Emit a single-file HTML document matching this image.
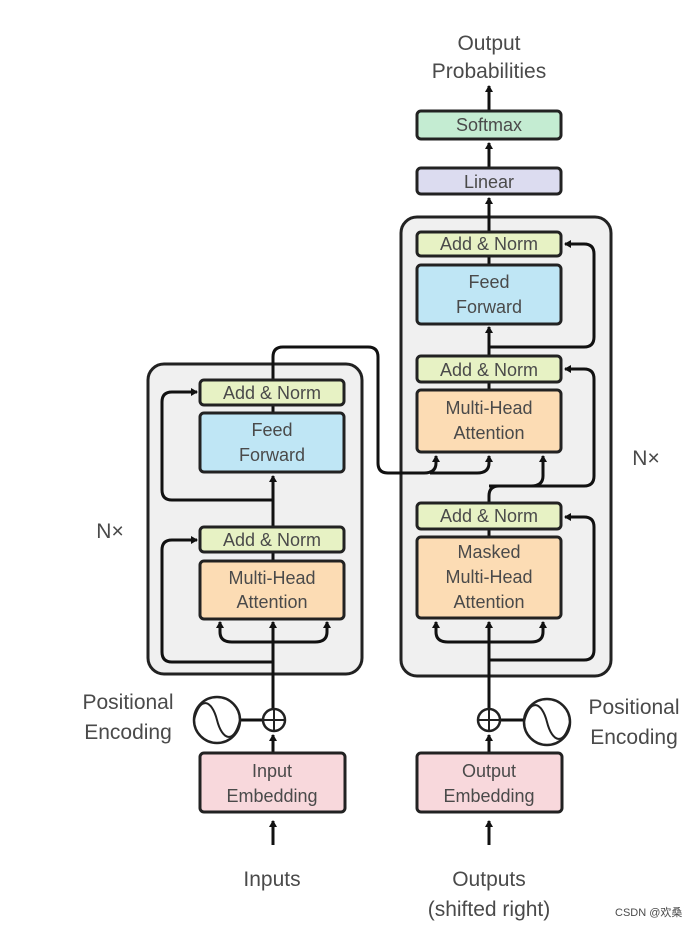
<!DOCTYPE html>
<html><head><meta charset="utf-8"><style>
html,body{margin:0;padding:0;background:#fff;}
svg{display:block;}
text{font-family:"Liberation Sans","Noto Sans CJK SC",sans-serif;fill:#4a4a4a;}
</style></head><body>
<svg width="697" height="926" viewBox="0 0 697 926" xmlns="http://www.w3.org/2000/svg">
<defs>
<marker id="a" markerWidth="8" markerHeight="8" refX="6" refY="4" orient="auto" markerUnits="userSpaceOnUse">
<path d="M0,0 L7,4 L0,8 Z" fill="#111"/></marker>
</defs>
<rect x="148" y="364" width="214" height="310" rx="16" fill="#f0f0f0" stroke="#222" stroke-width="3"/>
<rect x="401" y="217" width="210" height="459" rx="16" fill="#f0f0f0" stroke="#222" stroke-width="3"/>

<g stroke="#111" stroke-width="3" fill="none">
<path d="M273 845 L273 821" marker-end="url(#a)"/>
<path d="M273 753 L273 735" marker-end="url(#a)"/>
<path d="M273 708 L273 622" marker-end="url(#a)"/>
<path d="M273 662 L172 662 Q162 662 162 652 L162 550 Q162 540 172 540 L197 540" marker-end="url(#a)"/>
<path d="M273 642 L232 642 Q220 642 220 632 L220 622" marker-end="url(#a)"/>
<path d="M273 642 L315 642 Q327 642 327 632 L327 622" marker-end="url(#a)"/>
<path d="M273 562 L273 552"/>
<path d="M273 528 L273 476" marker-end="url(#a)"/>
<path d="M273 500 L172 500 Q162 500 162 490 L162 402 Q162 392 172 392 L197 392" marker-end="url(#a)"/>
<path d="M273 413 L273 405"/>
<path d="M273 380 L273 357 Q273 347 283 347 L368 347 Q378 347 378 357 L378 463 Q378 473 388 473 L424 473 Q436 473 436 463 L436 456" marker-end="url(#a)"/>
<path d="M430 473 L477 473 Q489 473 489 463 L489 456" marker-end="url(#a)"/>
<path d="M489 845 L489 821" marker-end="url(#a)"/>
<path d="M489 753 L489 735" marker-end="url(#a)"/>
<path d="M489 708 L489 622" marker-end="url(#a)"/>
<path d="M489 660 L584 660 Q594 660 594 650 L594 527 Q594 517 584 517 L565 517" marker-end="url(#a)"/>
<path d="M489 642 L448 642 Q436 642 436 632 L436 622" marker-end="url(#a)"/>
<path d="M489 642 L531 642 Q543 642 543 632 L543 622" marker-end="url(#a)"/>
<path d="M489 537 L489 529"/>
<path d="M489 503 L489 496 Q489 486 499 486 L531 486 Q543 486 543 476 L543 456" marker-end="url(#a)"/>
<path d="M489 486 L584 486 Q594 486 594 476 L594 379 Q594 369 584 369 L565 369" marker-end="url(#a)"/>
<path d="M489 390 L489 382"/>
<path d="M489 355 L489 327" marker-end="url(#a)"/>
<path d="M489 347 L584 347 Q594 347 594 337 L594 254 Q594 244 584 244 L565 244" marker-end="url(#a)"/>
<path d="M489 265 L489 256"/>
<path d="M489 232 L489 198" marker-end="url(#a)"/>
<path d="M489 168 L489 143" marker-end="url(#a)"/>
<path d="M489 111 L489 86" marker-end="url(#a)"/>
<path d="M241 720 L263 720"/>
<path d="M501 720 L523 720"/>
</g>

<g stroke="#222" stroke-width="3">
<rect x="200" y="380" width="144" height="25" rx="4" fill="#e7f2c4"/>
<rect x="200" y="413" width="144" height="59" rx="4" fill="#bfe6f5"/>
<rect x="200" y="527" width="144" height="25" rx="4" fill="#e7f2c4"/>
<rect x="200" y="561" width="144" height="58" rx="4" fill="#fcdcb4"/>
<rect x="200" y="753" width="145" height="59" rx="4" fill="#f8d8dc"/>
<rect x="417" y="232" width="144" height="24" rx="4" fill="#e7f2c4"/>
<rect x="417" y="265" width="144" height="59" rx="4" fill="#bfe6f5"/>
<rect x="417" y="356" width="144" height="26" rx="4" fill="#e7f2c4"/>
<rect x="417" y="390" width="144" height="62" rx="4" fill="#fcdcb4"/>
<rect x="417" y="503" width="144" height="26" rx="4" fill="#e7f2c4"/>
<rect x="417" y="537" width="144" height="81" rx="4" fill="#fcdcb4"/>
<rect x="417" y="168" width="144" height="26" rx="4" fill="#dcdcf0"/>
<rect x="417" y="111" width="144" height="28" rx="4" fill="#c4ecd2"/>
<rect x="417" y="753" width="145" height="59" rx="4" fill="#f8d8dc"/>
</g>

<g stroke="#222" stroke-width="2.5" fill="#fff">
<circle cx="217" cy="720" r="23"/>
<circle cx="274" cy="720" r="11"/>
<circle cx="489" cy="720" r="11"/>
<circle cx="547" cy="722" r="23"/>
</g>
<g stroke="#222" stroke-width="2" fill="none">
<path d="M263 720 H285 M274 709 V731"/>
<path d="M478 720 H500 M489 709 V731"/>
<path d="M194 720 C200 695 212 700 217 720 C222 740 234 745 240 720"/>
<path d="M524 722 C530 697 542 702 547 722 C552 742 564 747 570 722"/>
</g>

<g font-size="18" text-anchor="middle">
<text x="272" y="399">Add &amp; Norm</text>
<text x="272" y="436">Feed</text>
<text x="272" y="461">Forward</text>
<text x="272" y="546">Add &amp; Norm</text>
<text x="272" y="584">Multi-Head</text>
<text x="272" y="608">Attention</text>
<text x="272" y="777">Input</text>
<text x="272" y="802">Embedding</text>
<text x="489" y="250">Add &amp; Norm</text>
<text x="489" y="288">Feed</text>
<text x="489" y="313">Forward</text>
<text x="489" y="376">Add &amp; Norm</text>
<text x="489" y="414">Multi-Head</text>
<text x="489" y="439">Attention</text>
<text x="489" y="522">Add &amp; Norm</text>
<text x="489" y="558">Masked</text>
<text x="489" y="583">Multi-Head</text>
<text x="489" y="608">Attention</text>
<text x="489" y="188">Linear</text>
<text x="489" y="131">Softmax</text>
<text x="489" y="777">Output</text>
<text x="489" y="802">Embedding</text>
</g>
<g font-size="21" text-anchor="middle">
<text x="489" y="50">Output</text>
<text x="489" y="78">Probabilities</text>
<text x="272" y="886">Inputs</text>
<text x="489" y="886">Outputs</text>
<text x="489" y="916">(shifted right)</text>
<text x="128" y="709">Positional</text>
<text x="128" y="739">Encoding</text>
<text x="634" y="714">Positional</text>
<text x="634" y="744">Encoding</text>
<text x="110" y="538">N×</text>
<text x="646" y="465">N×</text>
</g>
<text x="615" y="916" font-size="11" fill="#555">CSDN @欢桑</text>
</svg>
</body></html>
